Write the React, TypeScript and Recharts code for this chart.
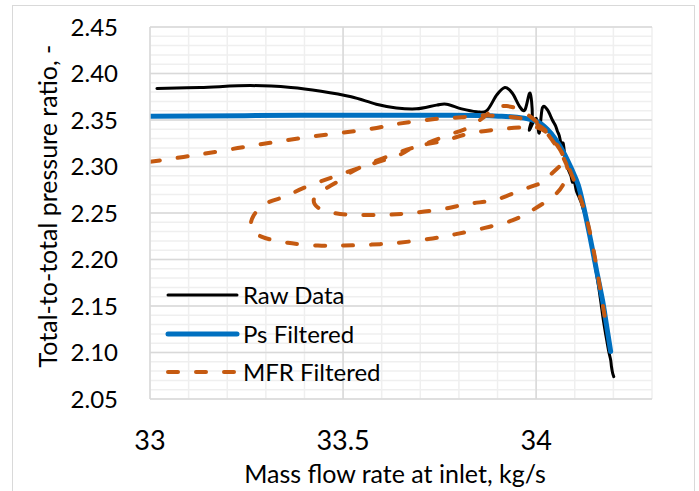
import React from 'react';
import { LineChart, Line, XAxis, YAxis, CartesianGrid, ReferenceLine } from 'recharts';

const xGridTicks = [33.0, 33.1, 33.2, 33.3, 33.4, 33.5, 33.6, 33.7, 33.8, 33.9, 34.0, 34.1, 34.2, 34.3];
const xLabelTicks = [33, 33.5, 34];
const xMajorGrid = [33.5, 34];
const yGridTicks = [
  2.05, 2.06, 2.07, 2.08, 2.09, 2.1, 2.11, 2.12, 2.13, 2.14, 2.15, 2.16, 2.17, 2.18, 2.19, 2.2,
  2.21, 2.22, 2.23, 2.24, 2.25, 2.26, 2.27, 2.28, 2.29, 2.3, 2.31, 2.32, 2.33, 2.34, 2.35, 2.36,
  2.37, 2.38, 2.39, 2.4, 2.41, 2.42, 2.43, 2.44, 2.45,
];
const yLabelTicks = [2.05, 2.1, 2.15, 2.2, 2.25, 2.3, 2.35, 2.4, 2.45];
const yMajorGrid = [2.1, 2.15, 2.2, 2.25, 2.3, 2.35, 2.4, 2.45];

const rawData = [
  [33.018, 2.384], [33.130, 2.385], [33.260, 2.387], [33.365, 2.385], [33.443, 2.381], [33.521, 2.375],
  [33.586, 2.367], [33.638, 2.363], [33.690, 2.362], [33.742, 2.366], [33.768, 2.367], [33.807, 2.362],
  [33.846, 2.359], [33.872, 2.360], [33.898, 2.377], [33.919, 2.385], [33.938, 2.379], [33.958, 2.364],
  [33.971, 2.361], [33.984, 2.379], [33.990, 2.355], [33.982, 2.339], [34.000, 2.352], [34.008, 2.336],
  [34.016, 2.363], [34.029, 2.361], [34.042, 2.350], [34.050, 2.344], [34.055, 2.338], [34.060, 2.333],
  [34.066, 2.322], [34.070, 2.325], [34.075, 2.310], [34.080, 2.303], [34.084, 2.296], [34.090, 2.290],
  [34.094, 2.283], [34.098, 2.286], [34.104, 2.274], [34.110, 2.268], [34.116, 2.262], [34.122, 2.254],
  [34.130, 2.243], [34.141, 2.221], [34.150, 2.200], [34.159, 2.178], [34.167, 2.156], [34.174, 2.135],
  [34.182, 2.115], [34.188, 2.101], [34.193, 2.092], [34.195, 2.085], [34.198, 2.078], [34.201, 2.074],
];

const psFiltered = [
  [33.000, 2.354], [33.391, 2.355], [33.781, 2.355], [33.911, 2.354], [33.969, 2.352], [34.003, 2.348],
  [34.029, 2.340], [34.049, 2.330], [34.070, 2.316], [34.091, 2.298], [34.109, 2.280], [34.125, 2.253],
  [34.141, 2.221], [34.156, 2.189], [34.172, 2.156], [34.182, 2.130], [34.193, 2.101],
];

const mfrFiltered = [
  [33.000, 2.305], [33.130, 2.313], [33.273, 2.323], [33.417, 2.332], [33.565, 2.340], [33.643, 2.346],
  [33.737, 2.351], [33.807, 2.353], [33.859, 2.355], [33.911, 2.354], [33.958, 2.352], [33.995, 2.347],
  [34.029, 2.337], [34.057, 2.321], [34.076, 2.307], [34.060, 2.300], [34.042, 2.293], [34.016, 2.283],
  [33.964, 2.275], [33.893, 2.264], [33.826, 2.260], [33.755, 2.254], [33.677, 2.250], [33.607, 2.248],
  [33.529, 2.248], [33.477, 2.250], [33.438, 2.255], [33.424, 2.264], [33.443, 2.273], [33.487, 2.284],
  [33.539, 2.298], [33.643, 2.315], [33.703, 2.323], [33.773, 2.334], [33.826, 2.342], [33.867, 2.354],
  [33.893, 2.363], [33.924, 2.365], [33.958, 2.361], [33.990, 2.352], [34.016, 2.342], [34.042, 2.328],
  [34.063, 2.315], [34.081, 2.298], [34.073, 2.283], [34.047, 2.269], [33.990, 2.253], [33.938, 2.242],
  [33.867, 2.234], [33.789, 2.227], [33.721, 2.222], [33.643, 2.218], [33.573, 2.216], [33.503, 2.215],
  [33.435, 2.215], [33.357, 2.218], [33.292, 2.224], [33.263, 2.234], [33.268, 2.247], [33.299, 2.260],
  [33.352, 2.268], [33.398, 2.277], [33.469, 2.288], [33.539, 2.298], [33.643, 2.312], [33.685, 2.321],
  [33.763, 2.328], [33.833, 2.336], [33.904, 2.340], [33.964, 2.342], [34.003, 2.342], [34.029, 2.336],
  [34.055, 2.323], [34.081, 2.302], [34.107, 2.275], [34.128, 2.248], [34.146, 2.216], [34.164, 2.173],
  [34.177, 2.140], [34.185, 2.122],
];

const toPoints = (arr: number[][]) => arr.map(([x, y]) => ({ x, y }));

const series = [
  { name: 'Raw Data', data: toPoints(rawData), color: '#000000', width: 3, dash: undefined as string | undefined },
  { name: 'Ps Filtered', data: toPoints(psFiltered), color: '#0070C0', width: 5, dash: undefined as string | undefined },
  { name: 'MFR Filtered', data: toPoints(mfrFiltered), color: '#C55A11', width: 4, dash: '10 18' },
];

// Catmull-Rom style smooth curve passing through every point (like Excel smoothed lines)
function smoothCurve(context: any) {
  let pts: number[][] = [];
  return {
    areaStart() {},
    areaEnd() {},
    lineStart() { pts = []; },
    point(x: number, y: number) { pts.push([x, y]); },
    lineEnd() {
      if (!pts.length) return;
      context.moveTo(pts[0][0], pts[0][1]);
      for (let i = 0; i < pts.length - 1; i++) {
        const p0 = pts[i - 1] || pts[i];
        const p1 = pts[i];
        const p2 = pts[i + 1];
        const p3 = pts[i + 2] || p2;
        const t = 1 / 6;
        const c1x = p1[0] + (p2[0] - p0[0]) * t;
        const c1y = p1[1] + (p2[1] - p0[1]) * t;
        const c2x = p2[0] - (p3[0] - p1[0]) * t;
        const c2y = p2[1] - (p3[1] - p1[1]) * t;
        context.bezierCurveTo(c1x, c1y, c2x, c2y, p2[0], p2[1]);
      }
    },
  };
}

const near = (v: number, list: number[]) => list.some((t) => Math.abs(t - v) < 1e-6);

const FONT = 'Lato, "Noto Sans", sans-serif';

const LegendBox = () => (
  <div style={{ display: 'flex', flexDirection: 'column', fontFamily: FONT }}>
    {series.map((s) => (
      <div key={s.name} style={{ display: 'flex', alignItems: 'center', height: 38.5 }}>
        <svg width={76} height={12} style={{ display: 'block' }}>
          <line
            x1={3}
            y1={6}
            x2={72}
            y2={6}
            stroke={s.color}
            strokeWidth={s.width}
            strokeDasharray={s.dash}
            strokeLinecap="round"
          />
        </svg>
        <span style={{ fontSize: 24, color: '#000', marginLeft: 2, lineHeight: '24px' }}>{s.name}</span>
      </div>
    ))}
  </div>
);

export default function App() {
  return (
    <div style={{ position: 'absolute', left: 0, top: 0, width: 699, height: 491, background: '#fff', fontFamily: FONT }}>
      <div
        style={{
          position: 'absolute',
          left: 12,
          top: 5,
          width: 683,
          height: 500,
          border: '1.5px solid #d9d9d9',
          boxSizing: 'border-box',
        }}
      />
      <div style={{ position: 'absolute', left: 0, top: 0 }}>
        <LineChart width={699} height={491} margin={{ top: 27, right: 47, left: 0, bottom: 0 }}>
          <CartesianGrid stroke="#efefef" strokeWidth={1.5} />
          <XAxis
            type="number"
            dataKey="x"
            domain={[33, 34.3]}
            ticks={xGridTicks}
            interval={0}
            allowDataOverflow
            height={92}
            tickSize={0}
            tickMargin={32}
            axisLine={{ stroke: '#d9d9d9', strokeWidth: 1.5 }}
            tickLine={false}
            tick={{ fontSize: 27, fill: '#000', fontFamily: FONT }}
            tickFormatter={(v: number) => (near(v, xLabelTicks) ? String(Math.round(v * 10) / 10) : '')}
            label={(props: any) => (
              <text x={395} y={483} textAnchor="middle" fontSize={25} fill="#000" fontFamily={FONT}>
                Mass flow rate at inlet, kg/s
              </text>
            )}
          />
          <YAxis
            type="number"
            dataKey="y"
            domain={[2.05, 2.45]}
            ticks={yGridTicks}
            interval={0}
            allowDataOverflow
            width={150}
            tickSize={0}
            tickMargin={32}
            axisLine={{ stroke: '#d9d9d9', strokeWidth: 1.5 }}
            tickLine={false}
            tick={{ fontSize: 24, fill: '#000', fontFamily: FONT }}
            tickFormatter={(v: number) => (near(v, yLabelTicks) ? v.toFixed(2) : '')}
            label={(props: any) => (
              <text
                x={47}
                y={206}
                transform="rotate(-90 47 206)"
                textAnchor="middle"
                dominantBaseline="central"
                fontSize={25}
                fill="#000"
                fontFamily={FONT}
              >
                Total-to-total pressure ratio, -
              </text>
            )}
          />
          {xMajorGrid.map((x) => (
            <ReferenceLine key={'vx' + x} x={x} stroke="#d9d9d9" strokeWidth={1.5} />
          ))}
          {yMajorGrid.map((y) => (
            <ReferenceLine key={'hy' + y} y={y} stroke="#d9d9d9" strokeWidth={1.5} />
          ))}
          {series.map((s) => (
            <Line
              key={s.name}
              name={s.name}
              data={s.data}
              dataKey="y"
              type={smoothCurve as any}
              stroke={s.color}
              strokeWidth={s.width}
              strokeDasharray={s.dash}
              strokeLinecap="round"
              strokeLinejoin="round"
              dot={false}
              activeDot={false}
              isAnimationActive={false}
            />
          ))}
        </LineChart>
      </div>
      <div style={{ position: 'absolute', left: 165, top: 276, width: 260 }}>
        <LegendBox />
      </div>
    </div>
  );
}
